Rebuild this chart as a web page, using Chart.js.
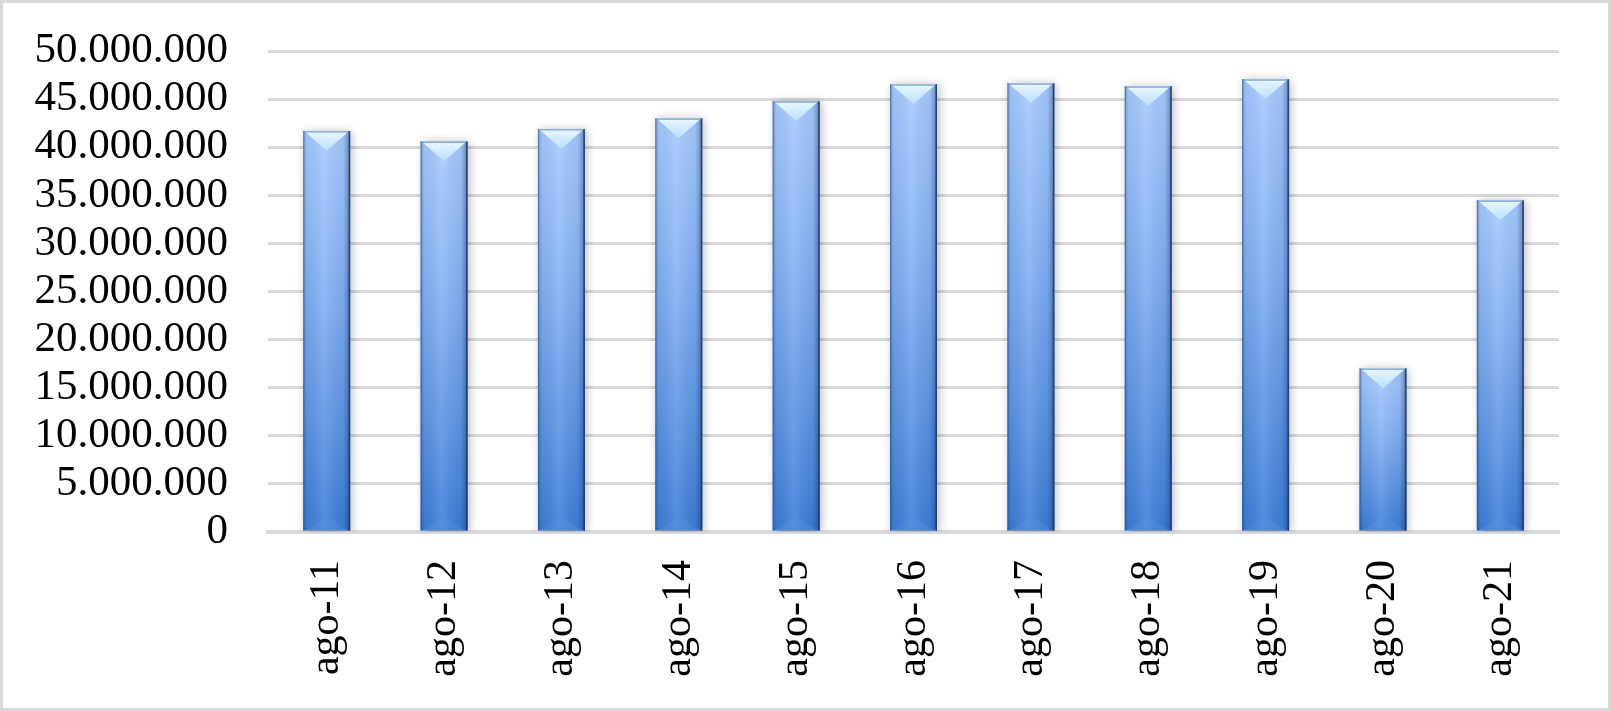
<!DOCTYPE html>
<html>
<head>
<meta charset="utf-8">
<script src="https://cdn.jsdelivr.net/npm/chart.js@4.4.0/dist/chart.umd.min.js"></script>
<style>
  html, body { margin: 0; padding: 0; background: #ffffff; }
  canvas { display: block; }
</style>
</head>
<body>
<canvas id="c" width="1611" height="711"></canvas>
<script>
const categories = ['ago-11','ago-12','ago-13','ago-14','ago-15','ago-16','ago-17','ago-18','ago-19','ago-20','ago-21'];
const values = [41680000, 40600000, 41890000, 43000000, 44770000, 46540000, 46640000, 46330000, 47060000, 17000000, 34470000];
const yTicks = { min: 0, max: 50000000, step: 5000000 };

const FONT = '"Liberation Serif", "DejaVu Serif", serif';

function fmt(v) {
  return String(Math.round(v)).replace(/\B(?=(\d{3})+(?!\d))/g, '.');
}

const framePlugin = {
  id: 'frame',
  beforeDraw(chart) {
    const ctx = chart.ctx;
    ctx.save();
    ctx.fillStyle = '#ffffff';
    ctx.fillRect(0, 0, chart.width, chart.height);
    ctx.restore();
  },
  afterDraw(chart) {
    const ctx = chart.ctx;
    ctx.save();
    ctx.strokeStyle = '#d9d9d9';
    ctx.lineWidth = 3;
    ctx.strokeRect(1.5, 1.5, chart.width - 3, chart.height - 3);
    ctx.restore();
  }
};

const barStylePlugin = {
  id: 'barStyle',
  beforeDatasetsDraw(chart) {
    const ctx = chart.ctx;
    ctx.save();
    ctx.shadowColor = 'rgba(0,0,0,0.28)';
    ctx.shadowBlur = 9;
    ctx.shadowOffsetX = 2;
    ctx.shadowOffsetY = 1;
  },
  afterDatasetsDraw(chart) {
    const ctx = chart.ctx;
    ctx.restore();
    const meta = chart.getDatasetMeta(0);
    meta.data.forEach(bar => {
      const p = bar.getProps(['x', 'y', 'base', 'width'], true);
      const l = p.x - p.width / 2, r = p.x + p.width / 2;
      const t = p.y, b = p.base, w = p.width;
      ctx.save();
      const hg = ctx.createLinearGradient(l, 0, r, 0);
      hg.addColorStop(0, 'rgba(10,40,90,0.30)');
      hg.addColorStop(0.08, 'rgba(10,40,90,0.06)');
      hg.addColorStop(0.45, 'rgba(255,255,255,0.10)');
      hg.addColorStop(0.85, 'rgba(10,40,90,0.06)');
      hg.addColorStop(0.95, 'rgba(10,40,90,0.30)');
      hg.addColorStop(1, 'rgba(10,40,90,0.65)');
      ctx.fillStyle = hg;
      ctx.fillRect(l, t, w, b - t);
      const depth = Math.min(w * 0.42, (b - t) * 0.5);
      const vg = ctx.createLinearGradient(0, t, 0, t + depth);
      vg.addColorStop(0, 'rgba(235,250,255,0.98)');
      vg.addColorStop(1, 'rgba(190,228,255,0.85)');
      ctx.beginPath();
      ctx.moveTo(l + 1, t);
      ctx.lineTo(r - 1, t);
      ctx.lineTo(p.x, t + depth);
      ctx.closePath();
      ctx.fillStyle = vg;
      ctx.fill();
      ctx.fillStyle = 'rgba(120,160,215,0.9)';
      ctx.fillRect(l, t, w, 1.5);
      const bd = Math.min(w * 0.3, (b - t) * 0.3);
      ctx.beginPath();
      ctx.moveTo(l + 2, b);
      ctx.lineTo(r - 2, b);
      ctx.lineTo(p.x, b - bd);
      ctx.closePath();
      ctx.fillStyle = 'rgba(90,150,225,0.35)';
      ctx.fill();
      ctx.fillStyle = 'rgba(25,60,115,0.85)';
      ctx.fillRect(r - 1.5, t, 1.5, b - t);
      ctx.fillStyle = 'rgba(40,80,140,0.45)';
      ctx.fillRect(l, t, 1.2, b - t);
      ctx.restore();
    });
  }
};

const ctx = document.getElementById('c').getContext('2d');
new Chart(ctx, {
  type: 'bar',
  data: {
    labels: categories,
    datasets: [{
      data: values,
      backgroundColor(context) {
        const chart = context.chart;
        const ys = chart.scales.y;
        if (!chart.chartArea || !ys || context.raw == null) return '#7aaaf0';
        const top = ys.getPixelForValue(context.raw);
        const bot = ys.getPixelForValue(0);
        if (!isFinite(top) || !isFinite(bot) || top === bot) return '#7aaaf0';
        const g = chart.ctx.createLinearGradient(0, top, 0, bot);
        g.addColorStop(0, '#a8cbfd');
        g.addColorStop(0.45, '#7fadf1');
        g.addColorStop(1, '#3c7dd5');
        return g;
      },
      borderWidth: 0,
      barPercentage: 0.4,
      categoryPercentage: 1.0
    }]
  },
  options: {
    responsive: false,
    animation: false,
    devicePixelRatio: 1,
    layout: { padding: { left: 0, right: 52, top: 51, bottom: 0 } },
    plugins: { legend: { display: false }, tooltip: { enabled: false } },
    scales: {
      x: {
        grid: { display: false, drawTicks: false },
        border: { display: true, color: '#d9d9d9', width: 4 },
        ticks: {
          color: '#000000',
          font: { family: FONT, size: 42 },
          minRotation: 90,
          maxRotation: 90,
          padding: 28,
          autoSkip: false
        },
        afterFit(s) { s.height = 179; s.paddingLeft = 0; s.paddingRight = 0; }
      },
      y: {
        min: yTicks.min,
        max: yTicks.max,
        grid: { color: '#d9d9d9', lineWidth: 3, drawTicks: false, tickLength: 0 },
        border: { display: false },
        ticks: {
          stepSize: yTicks.step,
          autoSkip: false,
          color: '#000000',
          font: { family: FONT, size: 43 },
          padding: 40,
          callback: v => fmt(v)
        },
        afterFit(s) { s.width = 268; s.paddingTop = 0; s.paddingBottom = 0; }
      }
    }
  },
  plugins: [framePlugin, barStylePlugin]
});
</script>
</body>
</html>
